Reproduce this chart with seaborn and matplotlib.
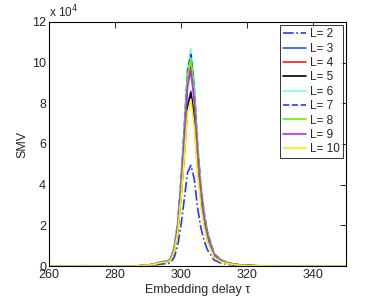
import pandas as pd
import matplotlib
matplotlib.use("Agg")
import matplotlib.pyplot as plt
import seaborn as sns

# embedding delay values (x axis)
tau = [260, 270, 280, 286, 290, 292, 294, 296, 297, 298, 299, 300, 301, 302, 303,
       304, 305, 306, 307, 308, 309, 310, 312, 314, 316, 318, 320, 324, 330, 340, 350]

# SMV values in units of 1e4, one list per embedding dimension L
smv_L2 = [0, 0.02, 0, 0, 0.03, 0.05, 0.1, 0.12, 0.2, 0.45, 1.0, 2.0, 3.3, 4.6, 4.95,
          4.3, 2.9, 1.9, 1.25, 0.8, 0.55, 0.3, 0.15, 0.09, 0.05, 0.03, 0.02, 0, 0, 0, 0]
smv_L3 = [0, 0, 0, 0, 0.04, 0.09, 0.17, 0.2, 0.35, 0.8, 1.75, 3.45, 5.6, 7.9, 8.6,
          7.3, 5.0, 3.3, 2.15, 1.4, 0.95, 0.52, 0.26, 0.15, 0.09, 0.05, 0.03, 0.01, 0, 0, 0]
smv_L4 = [0, 0, 0, 0, 0.05, 0.1, 0.2, 0.23, 0.4, 0.9, 1.95, 3.9, 6.4, 9.0, 9.8,
          8.4, 5.8, 3.9, 2.6, 1.7, 1.15, 0.62, 0.32, 0.18, 0.1, 0.06, 0.03, 0.01, 0, 0, 0]
smv_L5 = [0, 0, 0, 0, 0.04, 0.09, 0.17, 0.2, 0.35, 0.78, 1.7, 3.4, 5.5, 7.8, 8.5,
          7.3, 5.1, 3.45, 2.3, 1.5, 1.0, 0.56, 0.28, 0.16, 0.09, 0.05, 0.03, 0.01, 0, 0, 0]
smv_L6 = [0, 0, 0, 0, 0.05, 0.11, 0.21, 0.25, 0.43, 0.97, 2.15, 4.3, 7.0, 9.8, 10.7,
          9.1, 6.2, 4.1, 2.7, 1.7, 1.15, 0.62, 0.31, 0.18, 0.1, 0.06, 0.03, 0.01, 0, 0, 0]
smv_L7 = [0, 0, 0, 0, 0.05, 0.1, 0.2, 0.24, 0.42, 0.95, 2.1, 4.2, 6.8, 9.6, 10.4,
          8.8, 6.0, 3.95, 2.6, 1.65, 1.1, 0.6, 0.3, 0.17, 0.1, 0.05, 0.03, 0.01, 0, 0, 0]
smv_L8 = [0, 0, 0, 0, 0.05, 0.1, 0.2, 0.24, 0.41, 0.92, 2.05, 4.1, 6.65, 9.4, 10.2,
          8.6, 5.85, 3.85, 2.5, 1.6, 1.05, 0.57, 0.29, 0.16, 0.09, 0.05, 0.03, 0.01, 0, 0, 0]
smv_L9 = [0, 0, 0, 0, 0.05, 0.1, 0.19, 0.23, 0.38, 0.86, 1.92, 3.85, 6.25, 8.85, 9.6,
          8.1, 5.5, 3.6, 2.35, 1.5, 1.0, 0.54, 0.27, 0.15, 0.09, 0.05, 0.03, 0.01, 0, 0, 0]
smv_L10 = [0, 0, 0, 0, 0.05, 0.09, 0.17, 0.2, 0.33, 0.74, 1.65, 3.3, 5.35, 7.55, 8.2,
           6.85, 4.55, 2.95, 1.9, 1.2, 0.8, 0.43, 0.22, 0.13, 0.08, 0.04, 0.02, 0.01, 0, 0, 0]

labels = ["L= 2", "L= 3", "L= 4", "L= 5", "L= 6", "L= 7", "L= 8", "L= 9", "L= 10"]
series = [smv_L2, smv_L3, smv_L4, smv_L5, smv_L6, smv_L7, smv_L8, smv_L9, smv_L10]
colors = ["#1f3cff", "#2a55ff", "#ff1a1a", "#000000", "#7fffd4",
          "#1f3cff", "#66ee00", "#b02cff", "#f5f500"]
styles = ["-.", "-", "-", "-", "-", "--", "-", "-", "-"]

sns.set_style("white")
plt.rcParams['font.family'] = ['Liberation Sans', 'DejaVu Sans']

fig = plt.figure(figsize=(3.82, 3.0), dpi=100)
ax = fig.add_axes([0.128, 0.113, 0.778, 0.814])

for lab, vals, col, ls in zip(labels, series, colors, styles):
    df = pd.DataFrame({"tau": tau, "smv": [v * 1e4 for v in vals]})
    sns.lineplot(data=df, x="tau", y="smv", ax=ax, color=col, linestyle=ls,
                 linewidth=1.2, label=lab)

ax.set_xlim(260, 350)
ax.set_ylim(0, 12e4)
ax.set_xticks([260, 280, 300, 320, 340])
ax.set_yticks([0, 2e4, 4e4, 6e4, 8e4, 10e4, 12e4])
ax.set_yticklabels(["0", "2", "4", "6", "8", "10", "12"])
ax.text(0.0, 1.005, r"x 10$^4$", transform=ax.transAxes, fontsize=8.5,
        ha="left", va="bottom")
ax.set_xlabel("Embedding delay \u03c4", fontsize=9, labelpad=2)
ax.set_ylabel("SMV", fontsize=9, labelpad=3)
ax.tick_params(direction="in", length=4, width=0.7, labelsize=9,
               top=True, right=True, pad=2)
for s in ax.spines.values():
    s.set_color("black")
    s.set_linewidth(0.8)

leg = ax.legend(loc="upper right", fontsize=8.5, frameon=True, fancybox=False,
                handlelength=2.0, handletextpad=0.3, borderpad=0.25,
                labelspacing=0.2, borderaxespad=0.3)
leg.get_frame().set_edgecolor("black")
leg.get_frame().set_linewidth(0.7)

fig.savefig("out.png", dpi=100)
